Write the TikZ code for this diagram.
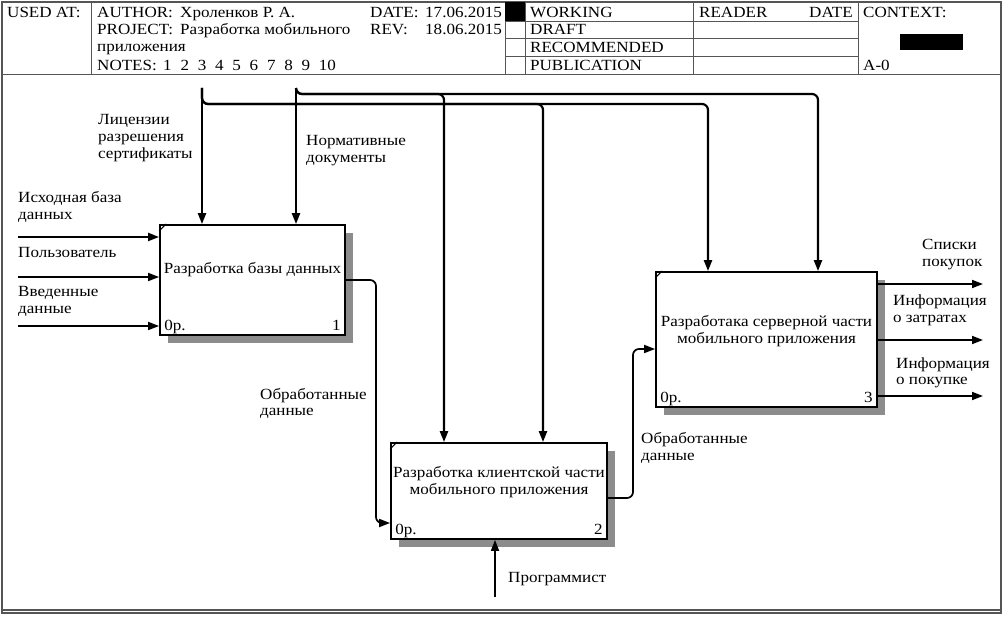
\documentclass[tikz,border=0pt]{standalone}
\usepackage{fontspec}
\setmainfont{Liberation Serif}[FakeStretch=1.1]
\usetikzlibrary{arrows.meta, shadows}
\definecolor{idefgray}{HTML}{555555}
\definecolor{idefshadow}{HTML}{8C8C8C}

\begin{document}
\begin{tikzpicture}[
    x=1pt, y=-1pt,
    >={Triangle[length=11pt, width=8pt]},
    txt/.style={font=\fontsize{15.5}{17}\selectfont, inner sep=0pt, align=left},
    hdr/.style={txt, anchor=base west},
    lbl/.style={txt, anchor=base west},
    func/.style={
        draw=black, line width=1.8pt, fill=white, inner sep=0pt,
        drop shadow={shadow xshift=8pt, shadow yshift=-8pt,
                     fill=idefshadow, opacity=1}
    },
    functext/.style={txt, align=center},
    rule/.style={draw=idefgray, line width=0.9pt},
    arrow/.style={->, line width=1.7pt, rounded corners=6pt},
    ctrl/.style={arrow, line width=2.2pt},
]
\useasboundingbox (0,0) rectangle (1004,617);

% ===================================================================
% FRAME AND HEADER
% ===================================================================
\draw[rule, line width=1.3pt] (2,2) rectangle (1001,613);
\draw[rule, line width=1.3pt] (2,610) -- (1001,610);
\draw[rule] (2,74) -- (1001,74);
\foreach \x in {91,505,525,693,858}
    \draw[rule] (\x,2) -- (\x,74);
\foreach \y in {21,38,56}
    \draw[rule] (505,\y) -- (858,\y);
\fill (505,2) rectangle (525,21);
\fill (900,34) rectangle (963,50);

\node[hdr] (usedat) at (7,18) {USED AT:};
\node[hdr] (author) at (97,18) {AUTHOR:};
\node[hdr] (author-name) at (180,18) {Хроленков Р. А.};
\node[hdr] (project) at (97,35) {PROJECT:};
\node[hdr] (project-name) at (180,35) {Разработка мобильного};
\node[hdr] (project-name2) at (97,52) {приложения};
\node[hdr] (notes) at (97,71) {NOTES:};
\foreach \n [count=\i from 0] in {1,...,10}
    \node[hdr] (note-\n) at (163+17.3*\i,71) {\n};
\node[hdr] (date) at (370,18) {DATE:};
\node[hdr] (date-val) at (425,18) {17.06.2015};
\node[hdr] (rev) at (370,35) {REV:};
\node[hdr] (rev-val) at (425,35) {18.06.2015};

\node[hdr] (working) at (530,18) {WORKING};
\node[hdr] (draft) at (530,35) {DRAFT};
\node[hdr] (recommended) at (530,53) {RECOMMENDED};
\node[hdr] (publication) at (530,71) {PUBLICATION};
\node[hdr] (reader) at (699,18) {READER};
\node[txt, anchor=base east] (reader-date) at (853,18) {DATE};
\node[hdr] (context) at (863,18) {CONTEXT:};
\node[hdr] (node-id) at (863,71) {A-0};

% ===================================================================
% FUNCTION BOXES
% ===================================================================
\node[func, minimum width=185pt, minimum height=110pt] (box1) at (252.5,280) {};
\node[func, minimum width=216pt, minimum height=96pt] (box2) at (499,491) {};
\node[func, minimum width=221pt, minimum height=135pt] (box3) at (766.5,339.5) {};

\node[functext] (box1-name) at ([yshift=10pt]box1.center)
    {Разработка базы данных};
\node[functext] (box2-name) at ([yshift=9pt]box2.center)
    {Разработка клиентской части\\мобильного приложения};
\node[functext] (box3-name) at ([yshift=8pt]box3.center)
    {Разработака серверной части\\мобильного приложения};

\foreach \b/\num in {box1/1, box2/2, box3/3} {
    \draw[line width=1pt] ([yshift=-7pt]\b.north west) -- ([xshift=7pt]\b.north west);
    \node[txt, anchor=base west] (\b-cost) at ([shift={(5pt,5pt)}]\b.south west) {0р.};
    \node[txt, anchor=base east] (\b-num) at ([shift={(-5pt,5pt)}]\b.south east) {\num};
}

% ===================================================================
% INPUTS
% ===================================================================
\coordinate (in-db) at (18,237);
\coordinate (in-user) at (18,277);
\coordinate (in-data) at (18,326);
\draw[arrow, line width=2pt] (in-db) -- (in-db -| box1.west);
\draw[arrow] (in-user) -- (in-user -| box1.west);
\draw[arrow] (in-data) -- (in-data -| box1.west);

% base of a two-line label = its last line
\node[lbl] (db-label) at (18,220) {Исходная база\\данных};
\node[lbl] (user-label) at (18,258) {Пользователь};
\node[lbl] (data-label) at (18,314) {Введенные\\данные};

% ===================================================================
% CONTROLS
% ===================================================================
\coordinate (lic) at (202,88);
\coordinate (norm) at (296,88);
\coordinate (lic-bus) at (0,104);
\coordinate (norm-bus) at (0,94);
\coordinate (tap2a) at (444,0);
\coordinate (tap2b) at (543,0);
\coordinate (tap3a) at (708,0);
\coordinate (tap3b) at (818,0);

\draw[ctrl] (lic) -- (lic |- box1.north);
\draw[ctrl] (norm) -- (norm |- box1.north);
\draw[ctrl] (lic) |- (tap2b |- lic-bus) -- (tap2b |- box2.north);
\draw[ctrl] (lic) |- (tap3a |- lic-bus) -- (tap3a |- box3.north);
\draw[ctrl] (norm) |- (tap2a |- norm-bus) -- (tap2a |- box2.north);
\draw[ctrl] (norm) |- (tap3b |- norm-bus) -- (tap3b |- box3.north);

\node[lbl] (lic-label) at (98,159) {Лицензии\\разрешения\\сертификаты};
\node[lbl] (norm-label) at (306,163) {Нормативные\\документы};

% ===================================================================
% INTERNAL FLOWS
% ===================================================================
\coordinate (bend12) at (376,523);
\draw[arrow] (box1.east) -| (bend12) -- (bend12 -| box2.west);
\node[lbl] (flow12-label) at (260,416) {Обработанные\\данные};

\coordinate (bend23) at (633,349);
\draw[arrow] ([yshift=-7pt]box2.east) -| (bend23) -- (bend23 -| box3.west);
\node[lbl] (flow23-label) at (641,460) {Обработанные\\данные};

% ===================================================================
% MECHANISM AND OUTPUTS
% ===================================================================
\coordinate (mech) at (495,597);
\draw[arrow] (mech) -- (mech |- box2.south);
\node[lbl] (mech-label) at (508,582) {Программист};

\coordinate (out-list) at (983,284);
\coordinate (out-cost) at (983,340);
\coordinate (out-buy) at (983,396);
\draw[arrow] (out-list -| box3.east) -- (out-list);
\draw[arrow] (out-cost -| box3.east) -- (out-cost);
\draw[arrow] (out-buy -| box3.east) -- (out-buy);

\node[lbl] (list-label) at (922,267) {Списки\\покупок};
\node[lbl] (cost-label) at (893,323) {Информация\\о затратах};
\node[lbl] (buy-label) at (896,385) {Информация\\о покупке};

\end{tikzpicture}
\end{document}
